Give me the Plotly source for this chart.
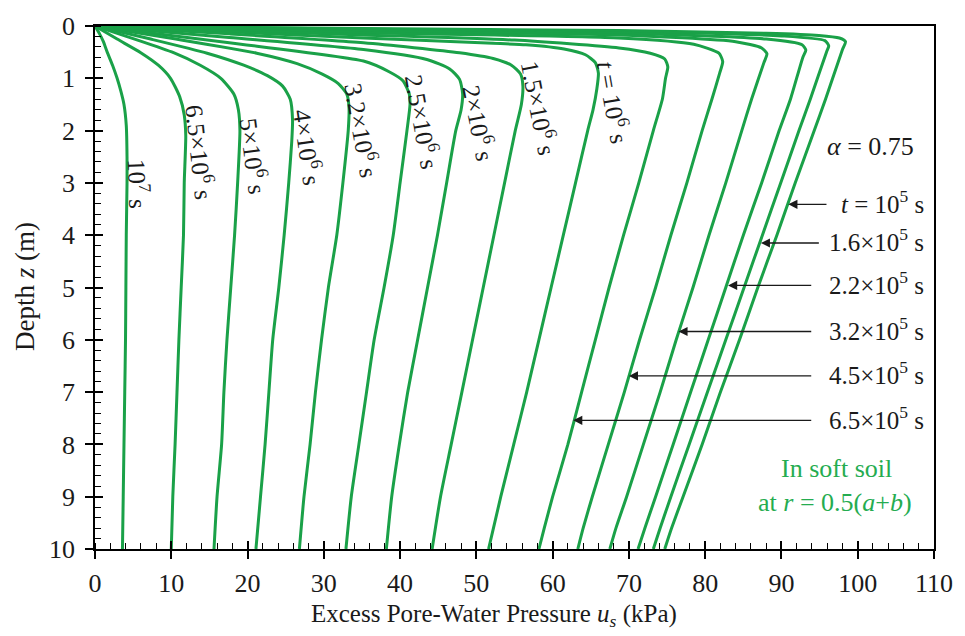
import plotly.graph_objects as go

# ---------------- data ----------------
x_tick_vals = list(range(0, 111, 10))
y_tick_vals = list(range(0, 11))

# depth z (m) vs excess pore-water pressure u_s (kPa), one pair per time
u_1e5 = [0, 35.2, 68.7, 88.0, 94.9, 97.6, 98.4, 98.0, 95.8, 94.3, 91.8, 89.4, 86.9, 84.5, 82.0, 79.6, 77.1, 75.6, 74.7]
z_1e5 = [0, 0.05, 0.088, 0.14, 0.18, 0.23, 0.30, 0.45, 1.39, 2, 3, 4, 5, 6, 7, 8, 9, 9.6, 10]

u_16e4 = [0, 35.2, 68.7, 90.0, 95.7, 96.2, 95.9, 93.8, 92.3, 89.9, 87.5, 85.1, 82.7, 80.3, 77.9, 75.5, 74.1, 73.2]
z_16e4 = [0, 0.06, 0.107, 0.19, 0.28, 0.38, 0.50, 1.39, 2, 3, 4, 5, 6, 7, 8, 9, 9.6, 10]

u_22e4 = [0, 35.2, 68.7, 88.0, 92.7, 93.2, 92.8, 91.2, 89.7, 87.4, 85.0, 82.7, 80.4, 78.1, 75.8, 73.5, 72.1, 71.2]
z_22e4 = [0, 0.08, 0.138, 0.25, 0.36, 0.46, 0.60, 1.39, 2, 3, 4, 5, 6, 7, 8, 9, 9.6, 10]

u_32e4 = [0, 35.2, 68.7, 84.0, 87.4, 88.1, 87.7, 86.1, 84.8, 82.7, 80.5, 78.4, 76.2, 74.1, 71.9, 69.7, 68.3, 67.5]
z_32e4 = [0, 0.10, 0.17, 0.30, 0.42, 0.53, 0.70, 1.39, 2, 3, 4, 5, 6, 7, 8, 9, 9.6, 10]

u_45e4 = [0, 35.2, 68.7, 78.5, 81.8, 82.3, 81.9, 80.9, 79.6, 77.6, 75.5, 73.5, 71.4, 69.4, 67.3, 65.2, 64.0, 63.3]
z_45e4 = [0, 0.13, 0.23, 0.35, 0.52, 0.68, 0.90, 1.39, 2, 3, 4, 5, 6, 7, 8, 9, 9.6, 10]

u_65e4 = [0, 35.2, 55.0, 68.7, 72.8, 74.7, 75.1, 74.8, 74.4, 73.2, 71.3, 69.3, 67.4, 65.6, 63.8, 62.0, 60.0, 58.9, 58.2]
z_65e4 = [0, 0.17, 0.27, 0.42, 0.52, 0.63, 0.78, 1.0, 1.39, 2, 3, 4, 5, 6, 7, 8, 9, 9.6, 10]

u_1e6 = [0, 17.6, 35.2, 52.2, 56.5, 61.5, 64.3, 65.6, 66.0, 65.8, 65.3, 64.6, 63.0, 61.4, 59.8, 58.2, 56.6, 54.9, 53.2, 51.6]
z_1e6 = [0, 0.11, 0.23, 0.33, 0.36, 0.44, 0.55, 0.70, 0.90, 1.2, 1.6, 2, 3, 4, 5, 6, 7, 8, 9, 10]

u_15e5 = [0, 17.6, 35.2, 47.8, 52.2, 54.6, 55.8, 56.1, 55.9, 55.1, 53.7, 52.3, 50.9, 49.5, 48.1, 46.7, 45.3, 44.2]
z_15e5 = [0, 0.15, 0.32, 0.51, 0.62, 0.75, 0.92, 1.15, 1.5, 2, 3, 4, 5, 6, 7, 8, 9, 10]

u_2e6 = [0, 17.6, 35.2, 43.5, 46.5, 47.8, 48.2, 48.0, 47.3, 46.1, 44.9, 43.6, 42.3, 41.0, 39.9, 38.9, 38.2]
z_2e6 = [0, 0.22, 0.45, 0.64, 0.82, 1.02, 1.3, 1.6, 2, 3, 4, 5, 6, 7, 8, 9, 10]

u_25e5 = [0, 17.6, 35.2, 38.5, 40.4, 41.2, 41.3, 40.9, 40.0, 39.1, 37.9, 36.6, 35.6, 34.6, 33.6, 32.9]
z_25e5 = [0, 0.32, 0.67, 0.87, 1.05, 1.3, 1.5, 2, 3, 4, 5, 6, 7, 8, 9, 10]

u_32e5 = [0, 10.6, 21.2, 26.5, 29.8, 31.9, 33.0, 33.3, 33.2, 32.5, 31.7, 30.6, 29.7, 28.9, 28.2, 27.4, 26.8]
z_32e5 = [0, 0.25, 0.52, 0.72, 0.92, 1.1, 1.3, 1.55, 2, 3, 4, 5, 6, 7, 8, 9, 10]

u_4e6 = [0, 7.3, 14.7, 19.5, 22.6, 24.6, 25.6, 25.9, 25.8, 25.4, 24.8, 24.1, 23.3, 22.8, 22.3, 21.7, 21.1]
z_4e6 = [0, 0.25, 0.52, 0.75, 0.95, 1.15, 1.4, 1.8, 2.2, 3, 4, 5, 6, 7, 8, 9, 10]

u_5e6 = [0, 5.2, 10.3, 13.8, 16.5, 18.2, 18.8, 19.0, 18.7, 18.3, 17.8, 17.3, 16.9, 16.6, 16.0, 15.6]
z_5e6 = [0, 0.25, 0.51, 0.75, 1.0, 1.3, 1.6, 2.0, 3, 4, 5, 6, 7, 8, 9, 10]

u_65e5 = [0, 2.9, 6.0, 8.3, 9.9, 11.1, 11.7, 11.9, 11.7, 11.6, 11.3, 11.0, 10.75, 10.5, 10.2, 10.0]
z_65e5 = [0, 0.25, 0.51, 0.75, 1.0, 1.35, 1.7, 2.1, 3, 4, 5, 6, 7, 8, 9, 10]

u_1e7 = [0, 0.6, 1.1, 1.6, 2.3, 2.9, 3.4, 3.8, 4.1, 4.2, 4.2, 4.1, 4.05, 4.0, 3.9, 3.8, 3.7, 3.6]
z_1e7 = [0, 0.15, 0.3, 0.5, 0.75, 1.0, 1.25, 1.5, 1.9, 2.5, 3, 4, 5, 6, 7, 8, 9, 10]

curves_u = [u_1e5, u_16e4, u_22e4, u_32e4, u_45e4, u_65e4, u_1e6, u_15e5,
            u_2e6, u_25e5, u_32e5, u_4e6, u_5e6, u_65e5, u_1e7]
curves_z = [z_1e5, z_16e4, z_22e4, z_32e4, z_45e4, z_65e4, z_1e6, z_15e5,
            z_2e6, z_25e5, z_32e5, z_4e6, z_5e6, z_65e5, z_1e7]

# rotated curve labels: text, u, z, angle
curve_label_text = ["<i>t</i> = 10<sup>6</sup> s", "1.5×10<sup>6</sup> s", "2×10<sup>6</sup> s",
                    "2.5×10<sup>6</sup> s", "3.2×10<sup>6</sup> s", "4×10<sup>6</sup> s",
                    "5×10<sup>6</sup> s", "6.5×10<sup>6</sup> s", "10<sup>7</sup> s"]
curve_label_u = [68.1, 58.4, 50.5, 43.1, 35.15, 27.97, 20.9, 13.85, 5.72]
curve_label_z = [1.45, 1.56, 1.85, 1.83, 1.98, 2.32, 2.49, 2.41, 3.01]
curve_label_angle = [80, 79, 79, 80, 80, 82, 83, 84, 88]

# arrow labels on the right: text, arrow-tip u, z, tail u
arrow_text = ["<i>t</i> = 10<sup>5</sup> s", "1.6×10<sup>5</sup> s", "2.2×10<sup>5</sup> s",
              "3.2×10<sup>5</sup> s", "4.5×10<sup>5</sup> s", "6.5×10<sup>5</sup> s"]
arrow_tip_u = [90.9, 87.3, 83.0, 76.5, 70.0, 62.7]
arrow_z = [3.41, 4.15, 4.96, 5.84, 6.69, 7.54]
arrow_tail_u = [96.1, 95.1, 94.1, 94.1, 94.1, 94.1]

GREEN = "#1aa148"
TEXT_GREEN = "#25ac50"
FONT = "Liberation Serif, Times New Roman, serif"
INK = "#1a1a1a"

fig = go.Figure()
for u, z in zip(curves_u, curves_z):
    fig.add_trace(go.Scatter(x=u, y=z, mode="lines",
                             line=dict(color=GREEN, width=3, shape="spline", smoothing=0.6),
                             showlegend=False, hoverinfo="skip"))

# dummy trace for overlay axes (inner half of major ticks)
fig.add_trace(go.Scatter(x=[None], y=[None], xaxis="x2", yaxis="y2", showlegend=False, hoverinfo="skip"))

annotations = []
for txt, u, z, ang in zip(curve_label_text, curve_label_u, curve_label_z, curve_label_angle):
    annotations.append(dict(x=u, y=z, xref="x", yref="y", text=txt, showarrow=False,
                            textangle=ang, xanchor="center", yanchor="middle",
                            font=dict(family=FONT, size=25, color=INK)))

for txt, tip, z, tail in zip(arrow_text, arrow_tip_u, arrow_z, arrow_tail_u):
    annotations.append(dict(x=tip, y=z, ax=tail, ay=z, xref="x", yref="y", axref="x", ayref="y",
                            text="", showarrow=True, arrowhead=2, arrowsize=1.3, arrowwidth=1.4,
                            arrowcolor=INK, standoff=0, startstandoff=0))
    annotations.append(dict(x=108.9, y=z - 0.05, xref="x", yref="y", text=txt, showarrow=False,
                            xanchor="right", yanchor="middle",
                            font=dict(family=FONT, size=25, color=INK)))

annotations.append(dict(x=107.6, y=2.3, xref="x", yref="y", text="<i>α</i> = 0.75", showarrow=False,
                        xanchor="right", yanchor="middle", font=dict(family=FONT, size=26, color=INK)))
annotations.append(dict(x=97.2, y=8.47, xref="x", yref="y", text="In soft soil", showarrow=False,
                        xanchor="center", yanchor="middle", font=dict(family=FONT, size=26, color=TEXT_GREEN)))
annotations.append(dict(x=97.0, y=9.12, xref="x", yref="y", text="at <i>r</i> = 0.5(<i>a</i>+<i>b</i>)",
                        showarrow=False, xanchor="center", yanchor="middle",
                        font=dict(family=FONT, size=26, color=TEXT_GREEN)))

# axis titles
annotations.append(dict(x=0.476, y=-0.127, xref="paper", yref="paper",
                        text="Excess Pore-Water Pressure <i>u<sub>s</sub></i> (kPa)", showarrow=False,
                        xanchor="center", yanchor="middle", font=dict(family=FONT, size=25, color=INK)))
annotations.append(dict(x=-0.0833, y=0.501, xref="paper", yref="paper", text="Depth <i>z</i> (m)",
                        showarrow=False, textangle=-90, xanchor="center", yanchor="middle",
                        font=dict(family=FONT, size=27, color=INK)))

common_axis = dict(showgrid=False, zeroline=False, showline=True, linecolor="black", linewidth=1.6,
                   mirror=True, ticks="outside", ticklen=8, tickwidth=1.5, tickcolor="black",
                   tickfont=dict(family=FONT, size=26, color=INK))

fig.update_layout(
    width=965, height=636,
    margin=dict(l=95, r=30, t=18, b=87),
    paper_bgcolor="white", plot_bgcolor="white",
    annotations=annotations,
    xaxis=dict(range=[0, 110], tickvals=x_tick_vals, ticklabelstandoff=2,
               minor=dict(dtick=2, ticks="inside", ticklen=6, tickwidth=1.2, tickcolor="black"),
               **common_axis),
    yaxis=dict(range=[10, 0], tickvals=y_tick_vals, ticklabelstandoff=5,
               minor=dict(dtick=0.2, ticks="inside", ticklen=6, tickwidth=1.2, tickcolor="black"),
               **common_axis),
    xaxis2=dict(range=[0, 110], overlaying="x", anchor="y2", side="bottom", tickvals=x_tick_vals,
                ticks="inside", ticklen=8, tickwidth=1.5, tickcolor="black", showticklabels=False,
                showline=False, showgrid=False, zeroline=False),
    yaxis2=dict(range=[10, 0], overlaying="y", anchor="x2", side="left", tickvals=y_tick_vals,
                ticks="inside", ticklen=8, tickwidth=1.5, tickcolor="black", showticklabels=False,
                showline=False, showgrid=False, zeroline=False),
)

fig.write_html("out.html")
